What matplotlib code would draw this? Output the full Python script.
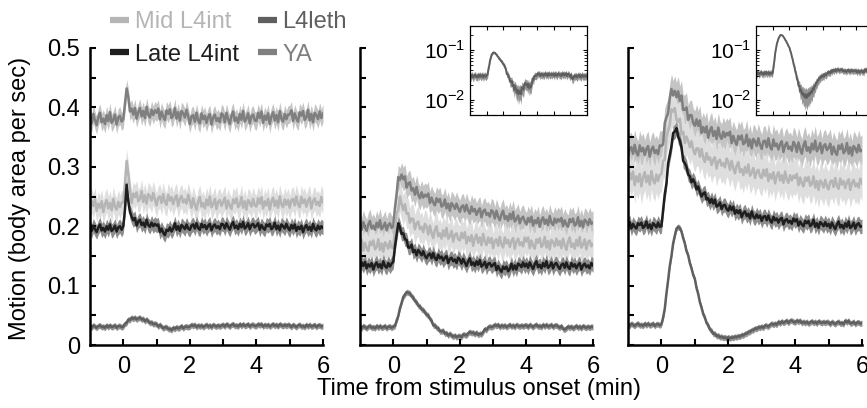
import numpy as np
import matplotlib
matplotlib.use("Agg")
import matplotlib.pyplot as plt
from matplotlib.lines import Line2D
from matplotlib.ticker import FixedLocator, FixedFormatter, LogLocator, NullFormatter

plt.rcParams["font.family"] = ["Liberation Sans", "DejaVu Sans"]
plt.rcParams["mathtext.fontset"] = "custom"
plt.rcParams["mathtext.rm"] = "Liberation Sans"

# ---------------------------------------------------------------------
# Data: mean motion (body area per sec, x1000), one value every 0.05 min
# from -1 to 6 min after stimulus onset (20 values per row = 1 min).
# ---------------------------------------------------------------------
time_min = np.round(np.arange(141) * 0.05 - 1.0, 2)

# panel 1
ya_p1 = [385, 373, 389, 378, 370, 384, 391, 375, 381, 372, 387, 377, 392, 374, 379, 388, 371, 383, 386, 376,
         380, 406, 432, 418, 393, 398, 388, 399, 381, 392, 399, 385, 394, 382, 401, 388, 383, 396, 387, 395,
         391, 398, 380, 393, 384, 379, 395, 389, 397, 382, 386, 399, 381, 392, 378, 394, 390, 383, 396, 385,
         372, 385, 387, 376, 391, 378, 373, 390, 380, 386, 374, 384, 389, 371, 383, 388, 377, 382, 375, 390,
         387, 375, 391, 380, 372, 386, 393, 377, 383, 374, 389, 379, 394, 376, 381, 390, 373, 385, 388, 378,
         377, 391, 382, 393, 374, 386, 379, 390, 372, 385, 392, 378, 387, 375, 394, 381, 376, 389, 380, 388,
         388, 395, 377, 390, 381, 376, 392, 386, 394, 379, 383, 396, 378, 389, 375, 391, 387, 380, 393, 382,
         390]
mid_p1 = [229, 243, 234, 245, 226, 238, 231, 242, 224, 237, 244, 230, 239, 227, 246, 233, 228, 241, 232, 240,
          240, 272, 310, 288, 262, 239, 255, 249, 257, 242, 246, 259, 241, 252, 238, 254, 250, 243, 256, 245,
          235, 248, 250, 239, 254, 241, 236, 253, 243, 249, 237, 247, 252, 234, 246, 251, 240, 245, 238, 253,
          243, 231, 247, 236, 228, 242, 249, 233, 239, 230, 245, 235, 250, 232, 237, 246, 229, 241, 244, 234,
          241, 248, 230, 243, 234, 229, 245, 239, 247, 232, 236, 249, 231, 242, 228, 244, 240, 233, 246, 235,
          233, 247, 238, 249, 230, 242, 235, 246, 228, 241, 248, 234, 243, 231, 250, 237, 232, 245, 236, 244,
          231, 244, 246, 235, 250, 237, 232, 249, 239, 245, 233, 243, 248, 230, 242, 247, 236, 241, 234, 249,
          240]
late_p1 = [199, 192, 201, 195, 190, 198, 203, 193, 197, 191, 200, 194, 203, 192, 195, 201, 191, 198, 200, 194,
           200, 228, 270, 242, 224, 216, 210, 214, 201, 208, 211, 202, 206, 199, 211, 202, 199, 206, 200, 204,
           201, 203, 190, 196, 189, 185, 194, 192, 198, 191, 196, 205, 194, 200, 192, 202, 199, 195, 203, 196,
           194, 201, 203, 196, 205, 197, 194, 204, 198, 202, 195, 201, 204, 193, 200, 203, 197, 200, 195, 204,
           203, 196, 205, 199, 194, 202, 207, 197, 201, 195, 204, 198, 207, 196, 199, 205, 195, 202, 204, 198,
           201, 205, 194, 202, 197, 194, 203, 200, 204, 195, 198, 206, 195, 201, 193, 203, 200, 196, 204, 197,
           193, 202, 196, 203, 192, 199, 195, 201, 190, 198, 202, 194, 199, 192, 204, 196, 193, 201, 195, 200,
           197]
leth_p1 = [32, 29, 33, 31, 29, 32, 33, 30, 31, 29, 33, 30, 33, 30, 31, 33, 29, 32, 32, 30,
           31, 36, 37, 43, 42, 46, 44, 46, 43, 45, 46, 43, 44, 40, 43, 40, 37, 38, 35, 36,
           35, 31, 34, 31, 28, 30, 30, 27, 27, 25, 29, 27, 30, 28, 29, 32, 28, 31, 31, 30,
           31, 34, 32, 34, 30, 33, 31, 33, 30, 32, 34, 31, 33, 30, 34, 32, 31, 33, 31, 33,
           34, 31, 35, 33, 31, 34, 35, 32, 33, 31, 35, 32, 35, 32, 33, 35, 31, 34, 34, 32,
           32, 35, 33, 35, 31, 34, 32, 34, 31, 33, 35, 32, 34, 31, 35, 33, 32, 34, 32, 34,
           33, 30, 34, 32, 30, 33, 34, 31, 32, 30, 34, 31, 34, 31, 32, 34, 30, 33, 33, 31,
           32]

# panel 2
ya_p2 = [204, 194, 207, 198, 192, 203, 209, 196, 201, 194, 206, 198, 210, 195, 199, 206, 193, 202, 205, 197,
         200, 231, 254, 283, 278, 287, 279, 284, 265, 272, 274, 260, 264, 253, 266, 253, 247, 257, 248, 253,
         250, 255, 239, 248, 240, 235, 247, 241, 246, 233, 235, 245, 230, 238, 226, 239, 235, 229, 238, 230,
         224, 233, 235, 225, 236, 226, 221, 233, 225, 229, 219, 226, 230, 215, 225, 228, 219, 222, 216, 227,
         224, 213, 226, 216, 210, 220, 226, 212, 217, 209, 221, 212, 224, 208, 212, 218, 205, 213, 216, 208,
         203, 214, 207, 216, 201, 210, 205, 214, 199, 210, 215, 204, 211, 202, 217, 206, 202, 213, 206, 212,
         208, 214, 200, 210, 203, 199, 212, 207, 213, 201, 204, 215, 200, 209, 198, 211, 208, 202, 212, 204,
         206]
mid_p2 = [170, 177, 159, 172, 163, 158, 174, 168, 176, 161, 165, 178, 160, 171, 157, 173, 169, 162, 175, 164,
          163, 194, 221, 227, 250, 237, 227, 237, 221, 222, 206, 213, 212, 195, 205, 208, 195, 199, 190, 204,
          199, 186, 201, 189, 180, 194, 200, 183, 188, 179, 193, 183, 197, 179, 183, 192, 174, 186, 188, 178,
          176, 189, 180, 190, 171, 182, 175, 185, 167, 180, 186, 172, 181, 168, 187, 174, 168, 181, 172, 180,
          163, 176, 178, 167, 182, 169, 164, 181, 171, 177, 165, 175, 180, 162, 174, 179, 168, 173, 166, 181,
          174, 181, 163, 176, 167, 162, 178, 172, 180, 165, 169, 182, 164, 175, 161, 177, 173, 166, 179, 168,
          175, 163, 179, 168, 160, 174, 181, 165, 171, 162, 177, 167, 182, 164, 169, 178, 161, 173, 176, 166,
          170]
late_p2 = [130, 139, 133, 140, 129, 136, 132, 138, 127, 135, 139, 131, 136, 129, 141, 133, 130, 138, 132, 137,
           140, 166, 185, 205, 198, 187, 188, 178, 177, 164, 164, 169, 156, 160, 151, 160, 156, 151, 158, 150,
           146, 152, 154, 146, 155, 146, 143, 152, 146, 149, 142, 147, 150, 138, 145, 147, 141, 144, 138, 147,
           144, 137, 145, 139, 133, 141, 146, 135, 139, 133, 141, 135, 143, 132, 135, 140, 130, 137, 138, 132,
           135, 138, 126, 133, 127, 123, 132, 128, 132, 124, 128, 137, 127, 134, 127, 137, 135, 131, 139, 132,
           137, 130, 139, 133, 128, 136, 141, 131, 135, 129, 138, 132, 141, 130, 133, 139, 129, 136, 138, 132,
           128, 135, 137, 130, 139, 131, 128, 138, 132, 136, 129, 135, 138, 127, 134, 137, 131, 134, 129, 138,
           134]
leth_p2 = [31, 28, 32, 30, 28, 31, 32, 29, 30, 28, 32, 29, 32, 29, 30, 32, 28, 31, 31, 29,
           31, 32, 41, 49, 62, 71, 81, 85, 89, 88, 87, 82, 80, 74, 72, 66, 65, 60, 59, 55,
           51, 50, 44, 41, 33, 33, 29, 28, 23, 23, 24, 19, 20, 16, 19, 16, 14, 16, 13, 15,
           15, 13, 18, 17, 16, 20, 22, 20, 21, 18, 21, 17, 19, 18, 22, 27, 25, 30, 31, 30,
           31, 34, 32, 34, 30, 33, 31, 33, 30, 32, 34, 31, 33, 30, 34, 32, 31, 33, 31, 33,
           33, 30, 34, 32, 30, 33, 34, 31, 32, 30, 34, 31, 34, 31, 32, 34, 30, 33, 33, 31,
           29, 32, 27, 26, 28, 31, 29, 31, 28, 30, 32, 29, 31, 28, 32, 30, 29, 31, 29, 31,
           30]

# panel 3
ya_p3 = [318, 331, 333, 322, 337, 324, 319, 336, 326, 332, 320, 330, 335, 317, 329, 334, 323, 328, 321, 336,
         335, 338, 374, 383, 390, 416, 431, 420, 428, 417, 427, 411, 420, 396, 396, 400, 379, 387, 387, 374,
         369, 380, 369, 378, 357, 367, 358, 368, 349, 361, 367, 352, 360, 347, 366, 352, 347, 359, 350, 357,
         353, 359, 340, 352, 343, 337, 352, 346, 353, 338, 341, 354, 335, 346, 331, 347, 343, 335, 348, 337,
         330, 343, 344, 333, 348, 334, 329, 346, 335, 339, 329, 338, 343, 325, 336, 341, 330, 334, 327, 342,
         337, 325, 341, 330, 322, 336, 343, 327, 333, 324, 339, 329, 344, 326, 331, 340, 323, 335, 338, 328,
         332, 339, 321, 334, 325, 320, 336, 330, 338, 323, 327, 340, 322, 333, 319, 335, 331, 324, 337, 326,
         328]
mid_p3 = [273, 290, 279, 292, 269, 284, 275, 288, 267, 282, 291, 274, 285, 270, 293, 278, 272, 287, 276, 286,
          288, 310, 312, 350, 361, 371, 397, 393, 399, 379, 376, 381, 355, 359, 340, 351, 343, 333, 343, 329,
          321, 331, 331, 317, 330, 315, 308, 323, 312, 316, 303, 312, 316, 297, 309, 312, 302, 306, 299, 314,
          308, 295, 310, 298, 289, 302, 308, 291, 296, 286, 300, 290, 304, 285, 290, 298, 281, 292, 295, 284,
          281, 295, 285, 296, 276, 288, 280, 291, 272, 285, 291, 277, 286, 273, 292, 279, 273, 286, 277, 285,
          281, 288, 269, 282, 272, 267, 282, 276, 283, 268, 271, 284, 265, 276, 261, 277, 273, 265, 278, 267,
          262, 275, 277, 266, 281, 268, 263, 280, 270, 276, 264, 274, 279, 261, 273, 278, 267, 272, 265, 280,
          272]
late_p3 = [203, 207, 196, 204, 199, 196, 205, 202, 206, 197, 200, 208, 197, 203, 195, 205, 202, 198, 206, 199,
           200, 227, 254, 272, 306, 320, 335, 357, 359, 365, 351, 344, 333, 310, 306, 300, 287, 284, 274, 279,
           273, 262, 267, 258, 250, 255, 257, 245, 247, 239, 246, 238, 245, 233, 235, 240, 229, 235, 236, 229,
           226, 234, 227, 233, 221, 227, 222, 227, 215, 222, 225, 217, 221, 213, 225, 216, 213, 220, 214, 218,
           209, 216, 217, 210, 218, 210, 206, 216, 210, 213, 206, 212, 214, 203, 210, 212, 206, 209, 204, 213,
           208, 212, 201, 208, 203, 200, 209, 205, 209, 200, 203, 211, 199, 205, 197, 207, 204, 200, 207, 200,
           204, 197, 206, 200, 195, 203, 208, 198, 202, 196, 205, 199, 208, 197, 200, 206, 196, 203, 205, 199,
           200]
leth_p3 = [35, 32, 36, 34, 32, 35, 36, 33, 34, 32, 36, 33, 36, 33, 34, 36, 32, 35, 35, 33,
           35, 46, 61, 87, 109, 133, 150, 171, 184, 196, 199, 197, 191, 180, 171, 158, 151, 138, 129, 118,
           111, 96, 86, 72, 63, 52, 46, 37, 33, 26, 24, 19, 19, 15, 16, 13, 14, 12, 13, 11,
           13, 11, 13, 12, 14, 13, 15, 14, 17, 16, 19, 19, 22, 22, 25, 25, 28, 27, 30, 29,
           31, 29, 33, 32, 31, 34, 36, 34, 36, 34, 39, 36, 40, 37, 39, 41, 37, 41, 41, 39,
           38, 41, 39, 41, 37, 39, 37, 39, 36, 38, 40, 37, 39, 36, 40, 38, 37, 39, 37, 39,
           38, 35, 39, 37, 35, 38, 39, 36, 37, 35, 41, 38, 41, 36, 37, 39, 35, 38, 38, 36,
           37]

# half-width of the shaded band (SEM) for YA, Mid, Late, L4leth
sem_p1 = [0.015, 0.020, 0.012, 0.005]
sem_p2 = [0.020, 0.025, 0.012, 0.005]
sem_p3 = [0.025, 0.030, 0.012, 0.005]

groups = ["YA", "Mid L4int", "Late L4int", "L4leth"]
line_colors = ["#7f7f7f", "#b5b5b5", "#1e1e1e", "#5f5f5f"]
band_colors = ["#c4c4c4", "#dedede", "#8c8c8c", "#959595"]

W, H = 867.0, 408.0


def px_box(x0, y_top, x1, y_bot):
    return [x0 / W, 1 - y_bot / H, (x1 - x0) / W, (y_bot - y_top) / H]


def draw_trace(ax, values, sem, line_c, band_c, lw=1.8):
    y = np.asarray(values) / 1000.0
    ax.fill_between(time_min, y - sem, y + sem, color=band_c, lw=0)
    ax.plot(time_min, y, color=line_c, lw=lw)


def style_main(ax, show_labels):
    for s in ["top", "right"]:
        ax.spines[s].set_visible(False)
    for s in ["left", "bottom"]:
        ax.spines[s].set_linewidth(1.8)
    ax.set_xlim(-1, 6)
    ax.set_ylim(0, 0.5)
    ax.set_xticks([0, 2, 4, 6])
    ax.set_xticks([1, 3, 5], minor=True)
    ax.set_yticks([0, 0.1, 0.2, 0.3, 0.4, 0.5])
    ax.set_yticklabels(["0", "0.1", "0.2", "0.3", "0.4", "0.5"])
    ax.set_yticks([0.05, 0.15, 0.25, 0.35, 0.45], minor=True)
    ax.tick_params(which="both", direction="in", length=4, width=1.5,
                   labelsize=17)
    ax.tick_params(axis="x", pad=8)
    ax.tick_params(axis="y", pad=7, labelleft=show_labels)


def style_inset(ax):
    ax.set_yscale("log")
    ax.set_xlim(-1, 6)
    ax.set_ylim(0.005, 0.3)
    ax.set_xticks(range(0, 6))
    ax.yaxis.set_major_locator(FixedLocator([0.01, 0.1]))
    ax.yaxis.set_major_formatter(FixedFormatter([r"$10^{-2}$", r"$10^{-1}$"]))
    ax.yaxis.set_minor_locator(LogLocator(base=10, subs=np.arange(2, 10)))
    ax.yaxis.set_minor_formatter(NullFormatter())
    for s in ax.spines.values():
        s.set_linewidth(0.9)
    ax.tick_params(which="both", direction="in", top=True, right=True,
                   labelbottom=False, labelsize=15, pad=3)
    ax.tick_params(which="major", length=3, width=0.8)
    ax.tick_params(which="minor", length=2, width=0.6)


fig = plt.figure(figsize=(W / 100, H / 100), dpi=100)

panels = [
    ([ya_p1, mid_p1, late_p1, leth_p1], sem_p1, (90, 323)),
    ([ya_p2, mid_p2, late_p2, leth_p2], sem_p2, (360, 593)),
    ([ya_p3, mid_p3, late_p3, leth_p3], sem_p3, (628, 862)),
]

for i, (traces, sems, (x0, x1)) in enumerate(panels):
    ax = fig.add_axes(px_box(x0, 48, x1, 345))
    for values, sem, lc, bc in zip(traces, sems, line_colors, band_colors):
        draw_trace(ax, values, sem, lc, bc)
    style_main(ax, show_labels=(i == 0))

# log-scale insets of the L4leth trace (panels 2 and 3)
for (traces, sems, _), (x0, x1) in zip(panels[1:], [(470, 587), (756, 873)]):
    ins = fig.add_axes(px_box(x0, 26, x1, 115))
    draw_trace(ins, traces[3], sems[3], line_colors[3], band_colors[3], lw=1.4)
    style_inset(ins)

fig.text(20 / W, 1 - 198 / H, "Motion (body area per sec)", rotation=90,
         ha="center", va="center", fontsize=17)
fig.text(479 / W, 1 - 389 / H, "Time from stimulus onset (min)",
         ha="center", va="center", fontsize=17)

# legend: column-major order -> [Mid, Late] then [L4leth, YA]
order = [1, 2, 3, 0]
handles = [Line2D([], [], color=line_colors[k], lw=4.5, solid_capstyle="butt")
           for k in order]
labels = [groups[k] for k in order]
fig.legend(handles, labels, ncol=2, loc="upper left",
           bbox_to_anchor=(110 / W, 1 - 11 / H), frameon=False, fontsize=17,
           handlelength=0.8, handletextpad=0.25, columnspacing=0.8,
           labelspacing=0.45, borderpad=0, borderaxespad=0,
           labelcolor=[line_colors[k] for k in order])

fig.savefig("out.png", dpi=100)
